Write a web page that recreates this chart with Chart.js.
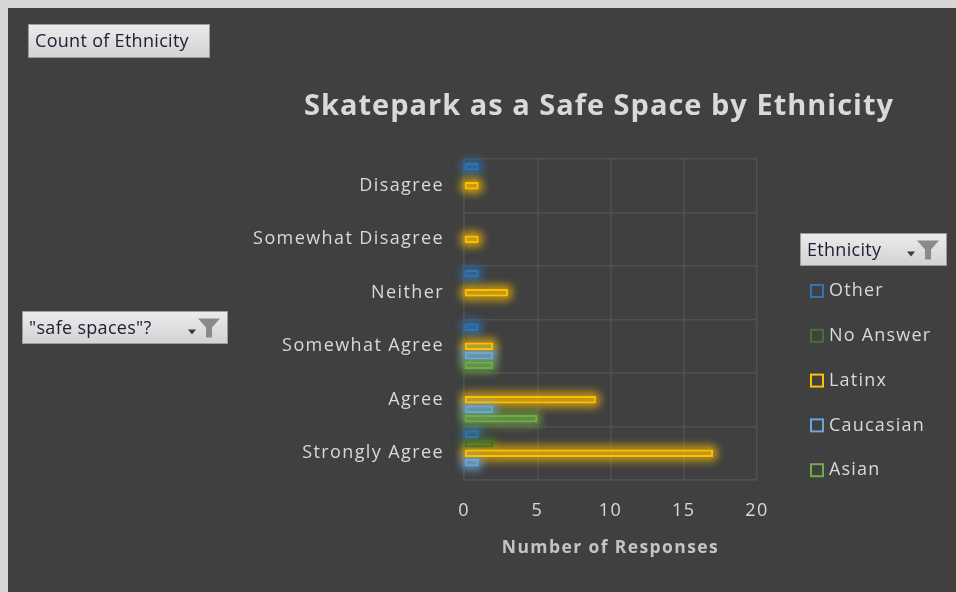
<html>
  <head>
    <script src="https://cdnjs.cloudflare.com/ajax/libs/Chart.js/4.4.0/chart.umd.min.js"></script>
  </head>
  <body style="margin:0;background:#404040">
    <canvas id="chart" width="956" height="592"></canvas>
    <script>
      // survey answers, top to bottom
      const responses = ['Disagree', 'Somewhat Disagree', 'Neither', 'Somewhat Agree', 'Agree', 'Strongly Agree'];
      const ethnicities = ['Other', 'No Answer', 'Latinx', 'Caucasian', 'Asian'];
      const other = [1, null, 1, 1, null, 1];
      const noAnswer = [null, null, null, null, null, 2];
      const latinx = [1, 1, 3, 2, 9, 17];
      const caucasian = [null, null, null, 2, 2, 1];
      const asian = [null, null, null, 2, 5, null];
      const xTicks = [0, 5, 10, 15, 20];
      const colors = ['#2f74b5', '#46702b', '#ffc000', '#6aa6dc', '#70ad47'];

      const FONT = '"Open Sans", "Noto Sans", sans-serif';
      const TEXT = '#d9d9d9';

      function alpha(hex, a) {
        const n = parseInt(hex.slice(1), 16);
        return `rgba(${n >> 16},${(n >> 8) & 255},${n & 255},${a})`;
      }

      // grey pivot-table style field button
      function fieldButton(ctx, x, y, w, h, text, filter) {
        const g = ctx.createLinearGradient(0, y, 0, y + h);
        g.addColorStop(0, '#ececec');
        g.addColorStop(1, '#d2d2d2');
        ctx.fillStyle = g;
        ctx.fillRect(x, y, w, h);
        ctx.strokeStyle = '#9c9c9c';
        ctx.lineWidth = 1;
        ctx.strokeRect(x + 0.5, y + 0.5, w - 1, h - 1);
        ctx.fillStyle = '#20203a';
        ctx.font = '18px ' + FONT;
        ctx.textAlign = 'left';
        ctx.textBaseline = 'middle';
        ctx.letterSpacing = '0.3px';
        ctx.fillText(text, x + 7, y + h / 2 + 1);
        if (filter) {
          const fx = x + w - 28, cy = y + h / 2;
          // small dropdown arrow
          ctx.fillStyle = '#3a3a3a';
          ctx.beginPath();
          ctx.moveTo(fx - 12, cy + 2);
          ctx.lineTo(fx - 4, cy + 2);
          ctx.lineTo(fx - 8, cy + 7);
          ctx.fill();
          // funnel
          ctx.fillStyle = '#8a8a8a';
          ctx.beginPath();
          ctx.moveTo(fx - 2, cy - 9);
          ctx.lineTo(fx + 20, cy - 9);
          ctx.lineTo(fx + 12, cy);
          ctx.lineTo(fx + 12, cy + 10);
          ctx.lineTo(fx + 6, cy + 10);
          ctx.lineTo(fx + 6, cy);
          ctx.closePath();
          ctx.fill();
        }
      }

      const backdrop = {
        id: 'backdrop',
        beforeDraw(chart) {
          const ctx = chart.ctx;
          ctx.save();
          ctx.fillStyle = '#d6d6d6';
          ctx.fillRect(0, 0, chart.width, chart.height);
          ctx.fillStyle = '#404040';
          ctx.fillRect(8, 8, chart.width - 8, chart.height - 8);
          ctx.restore();
          // wider tracking for the axis labels
          ctx.letterSpacing = '1.4px';
        }
      };

      // soft glow around every bar; the rect itself is drawn off canvas
      // so only its shadow lands under the bar
      const glow = {
        id: 'glow',
        beforeDatasetsDraw(chart) {
          const ctx = chart.ctx;
          const shift = 3000;
          chart.data.datasets.forEach((ds, i) => {
            const meta = chart.getDatasetMeta(i);
            meta.data.forEach((bar, j) => {
              if (ds.data[j] == null) return;
              const p = bar.getProps(['x', 'y', 'base', 'height'], true);
              ctx.save();
              ctx.shadowColor = alpha(colors[i], 0.75);
              ctx.shadowBlur = 10;
              ctx.shadowOffsetX = shift;
              ctx.strokeStyle = '#000';
              ctx.lineWidth = 4;
              for (let k = 0; k < 2; k++) {
                ctx.strokeRect(p.base - shift, p.y - p.height / 2, p.x - p.base, p.height);
              }
              ctx.restore();
            });
          });
        }
      };

      const decorations = {
        id: 'decorations',
        afterDraw(chart) {
          const ctx = chart.ctx;
          ctx.save();

          ctx.fillStyle = TEXT;
          ctx.font = 'bold 29px ' + FONT;
          ctx.textAlign = 'center';
          ctx.textBaseline = 'middle';
          ctx.letterSpacing = '1px';
          ctx.fillText('Skatepark as a Safe Space by Ethnicity', 599, 107);

          fieldButton(ctx, 28, 24, 182, 34, 'Count of Ethnicity', false);
          fieldButton(ctx, 22, 311, 206, 33, '"safe spaces"?', true);
          fieldButton(ctx, 800, 233, 147, 33, 'Ethnicity', true);

          // legend
          const top = 291, step = 44.8;
          ctx.letterSpacing = '1.2px';
          chart.data.datasets.forEach((ds, i) => {
            const cy = top + i * step;
            ctx.strokeStyle = colors[i];
            ctx.lineWidth = 2;
            ctx.strokeRect(811, cy - 6, 12, 12);
            ctx.fillStyle = TEXT;
            ctx.font = '18px ' + FONT;
            ctx.textAlign = 'left';
            ctx.textBaseline = 'middle';
            ctx.fillText(ds.label, 829, cy);
          });
          ctx.restore();
        }
      };

      const datasets = [other, noAnswer, latinx, caucasian, asian].map(function(values, i) {
        return {
          label: ethnicities[i],
          data: values,
          backgroundColor: alpha(colors[i], 0.2),
          borderColor: colors[i],
          borderWidth: 2,
          borderSkipped: false,
          categoryPercentage: 0.89,
          barPercentage: 0.8
        };
      });

      new Chart('chart', {
        type: 'bar',
        data: { labels: responses, datasets: datasets },
        plugins: [backdrop, glow, decorations],
        options: {
          indexAxis: 'y',
          responsive: false,
          animation: false,
          devicePixelRatio: 1,
          layout: { padding: { left: 0, right: 199, top: 159, bottom: 0 } },
          plugins: {
            legend: { display: false },
            tooltip: { enabled: false }
          },
          scales: {
            x: {
              min: 0,
              max: 20,
              afterBuildTicks(scale) {
                scale.ticks = xTicks.map(v => ({ value: v }));
              },
              afterFit(scale) { scale.height = 112; },
              grid: { color: '#505050', lineWidth: 1.5, drawTicks: false },
              border: { color: '#505050', width: 1.5 },
              ticks: { color: TEXT, font: { family: FONT, size: 18 }, padding: 20 },
              title: {
                display: true,
                text: 'Number of Responses',
                color: '#c4c4c4',
                font: { family: FONT, size: 17.5, weight: 'bold' },
                padding: { top: 0, bottom: 33 }
              }
            },
            y: {
              afterFit(scale) { scale.width = 464; },
              grid: { color: '#505050', lineWidth: 1.5, drawTicks: false },
              border: { color: '#505050', width: 1.5 },
              ticks: { color: TEXT, font: { family: FONT, size: 18 }, padding: 20 }
            }
          }
        }
      });
    </script>
  </body>
</html>
